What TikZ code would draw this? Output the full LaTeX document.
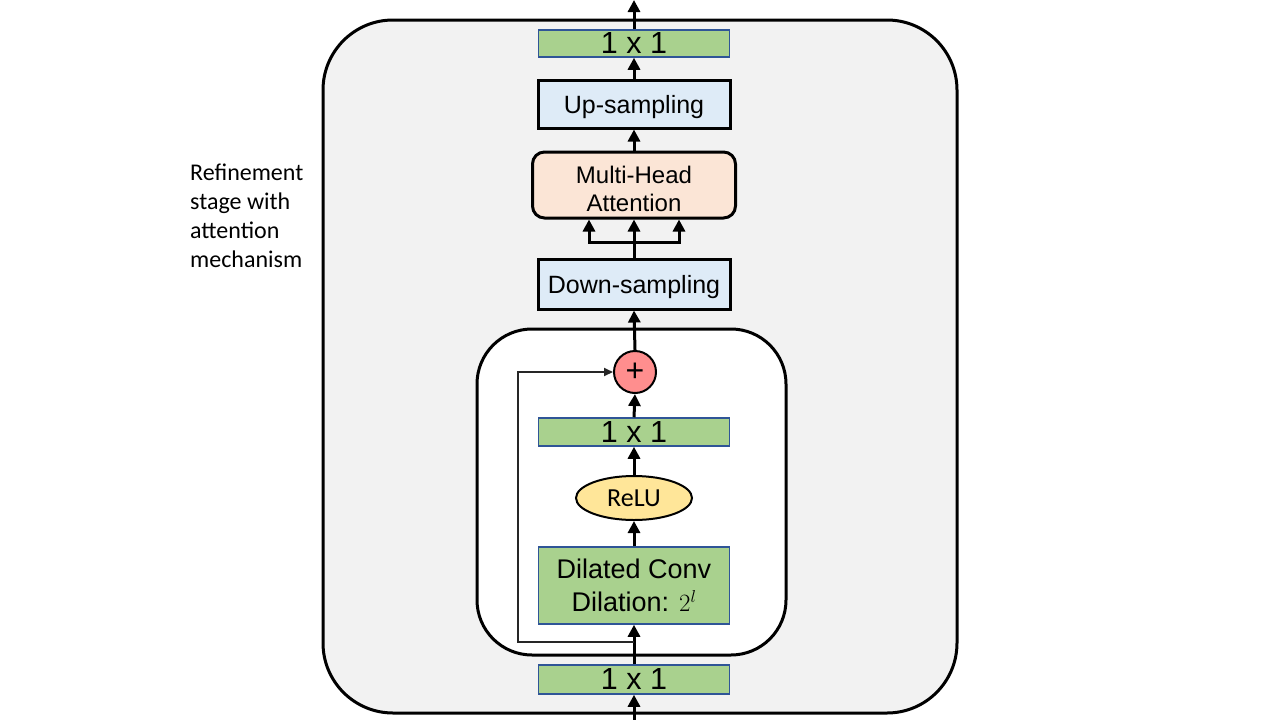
\documentclass[tikz,border=0pt]{standalone}
\usepackage{fontspec}
\setmainfont{Liberation Sans}
\newfontfamily\calib{Carlito}
\usetikzlibrary{arrows.meta,shapes.geometric}
\definecolor{bggray}{HTML}{F2F2F2}
\definecolor{convgreen}{HTML}{A9D18E}
\definecolor{convedge}{HTML}{2F5597}
\definecolor{sampblue}{HTML}{DEEBF7}
\definecolor{attnpeach}{HTML}{FBE5D6}
\definecolor{reluyellow}{HTML}{FFE699}
\definecolor{plusred}{HTML}{FF8E8E}
\tikzset{
  outerbox/.style={draw=black,line width=3pt,fill=bggray,rounded corners=70pt},
  innerbox/.style={draw=black,line width=3pt,fill=white,rounded corners=55pt},
  conv/.style={draw=convedge,line width=1.5pt,fill=convgreen,minimum width=191pt,inner sep=0pt,align=center},
  samp/.style={draw=black,line width=3pt,fill=sampblue,minimum width=192pt,inner sep=0pt,text depth=0pt,font=\fontsize{25}{28}\selectfont},
  attn/.style={draw=black,line width=3pt,fill=attnpeach,rounded corners=12pt,minimum width=203pt,minimum height=66pt,inner sep=0pt,align=center,font=\fontsize{24}{28}\selectfont},
  relu/.style={ellipse,draw=black,line width=2pt,fill=reluyellow,minimum width=116pt,minimum height=44pt,inner sep=0pt,font=\calib\fontsize{26}{28}\selectfont},
  plus/.style={circle,draw=black,line width=2pt,fill=plusred,minimum size=42pt,inner sep=0pt,font=\fontsize{32}{32}\selectfont},
  arr/.style={line width=3pt,-{Triangle[length=12pt,width=12pt]}},
  line3/.style={line width=3pt},
  skip/.style={line width=2pt,draw=black!85,-{Triangle[length=9pt,width=8pt]}},
  big/.style={font=\fontsize{30.5}{32}\selectfont},
}
\begin{document}
\begin{tikzpicture}[x=1pt,y=-1pt]
\useasboundingbox (0,0) rectangle (1280,720);
\fill[white] (0,0) rectangle (1280,720);
\draw[outerbox] (323,20) rectangle (957,713);
\draw[innerbox] (477,329) rectangle (786,655);

\node[conv,big,minimum height=27pt] (top1) at (634,43.5) {1 x 1};
\node[samp,minimum height=48pt] (up) at (634,104) {Up-sampling};
\node[attn] (mha) at (634,185) {\rule{0pt}{26pt}Multi-Head\\Attention};
\node[samp,minimum height=50pt] (down) at (634,284) {Down-sampling};
\node[plus] (plus) at (635,372) {+};
\node[conv,big,minimum height=28pt] (c1) at (634,432) {1 x 1};
\node[relu] (relu) at (634,498) {ReLU};
\node[conv,minimum height=77pt,font=\fontsize{27}{33}\selectfont] (dil) at (634,585.5) {Dilated Conv\\Dilation: $2^{l}$};
\node[conv,big,minimum height=29pt] (bot1) at (634,679.5) {1 x 1};

\node[anchor=north west,align=left,inner sep=0pt,font=\calib\fontsize{24}{29}\selectfont] (lbl) at (190,164) {Refinement\\stage with\\attention\\mechanism};

\coordinate (in) at (634,720);
\coordinate (out) at (634,0);
\coordinate (split) at (634,242);
\coordinate (sk) at (634,642);
\coordinate (skc) at (518,372);

\draw[arr] (in) -- (bot1.south);
\draw[arr] (bot1.north) -- (dil.south);
\draw[arr] (dil.north) -- (relu.south);
\draw[arr] (relu.north) -- (c1.south);
\draw[arr] (c1.north) -- (plus.south);
\draw[skip] (sk) -| (skc) -- (plus.west);
\draw[arr] (plus.north) -- (down.south);
\draw[line3] (down.north) -- (split);
\draw[arr] (split) -- (mha.south);
\draw[arr] (split) -| ([xshift=-45pt]mha.south);
\draw[arr] (split) -| ([xshift=45pt]mha.south);
\draw[arr] (mha.north) -- (up.south);
\draw[arr] (up.north) -- (top1.south);
\draw[arr] (top1.north) -- (out);
\end{tikzpicture}
\end{document}
